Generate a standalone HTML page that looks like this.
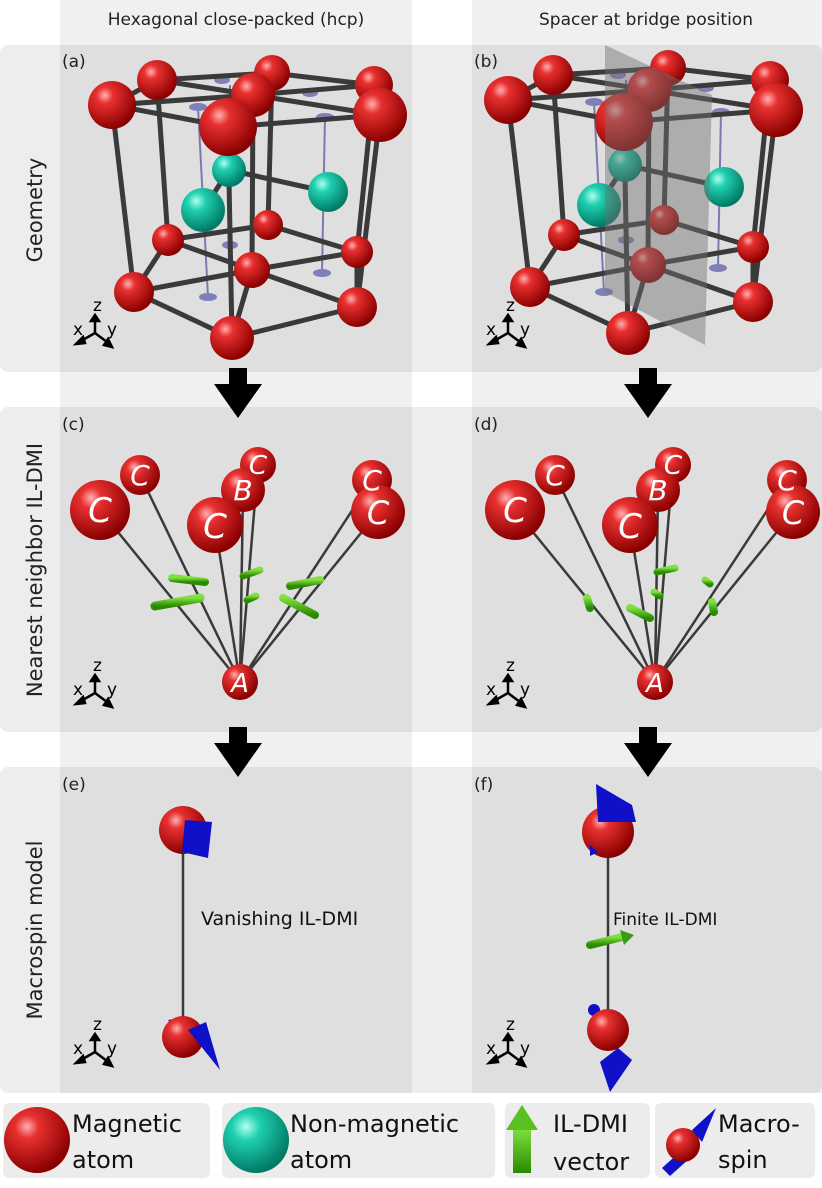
<!DOCTYPE html>
<html><head><meta charset="utf-8"><style>
body{margin:0;background:#fff}
svg{display:block}
text{font-family:"DejaVu Sans","Liberation Sans",sans-serif}
</style></head><body>
<svg width="822" height="1188" viewBox="0 0 822 1188" xmlns="http://www.w3.org/2000/svg">
<defs>
<radialGradient id="r" cx="35%" cy="30%" r="70%"><stop offset="0" stop-color="#ffb0b0"/><stop offset="0.25" stop-color="#e83030"/><stop offset="1" stop-color="#8a0000"/></radialGradient>
<radialGradient id="t" cx="35%" cy="30%" r="70%"><stop offset="0" stop-color="#b0fff0"/><stop offset="0.3" stop-color="#20d0b0"/><stop offset="1" stop-color="#007a66"/></radialGradient>
<linearGradient id="g" x1="0" y1="0" x2="0" y2="1"><stop offset="0" stop-color="#80e040"/><stop offset="1" stop-color="#2a8a00"/></linearGradient>
<g id="ax">
<g stroke="#000" stroke-width="2.5" fill="none">
<line x1="0" y1="0" x2="0" y2="-14"/><path d="M-4,-12 L0,-18 L4,-12Z" fill="#000"/>
<line x1="0" y1="0" x2="-14" y2="8"/><path d="M-12,4 L-19,11 L-10,10Z" fill="#000"/>
<line x1="0" y1="0" x2="12" y2="9"/><path d="M9,12 L17,14 L13,6Z" fill="#000"/>
</g>
<text x="-2" y="-22" font-size="17" fill="#000">z</text>
<text x="-22" y="2" font-size="17" fill="#000">x</text>
<text x="12" y="2" font-size="17" fill="#000">y</text>
</g>
<g id="arr"><rect x="-9" y="0" width="18" height="16" fill="#000"/><path d="M-24,16 L24,16 L0,50Z" fill="#000"/></g>
</defs>
<rect x="60" y="0" width="352" height="1093" fill="#000" fill-opacity="0.06"/>
<rect x="472" y="0" width="350" height="1093" fill="#000" fill-opacity="0.06"/>
<rect x="0" y="45" width="822" height="327" rx="8" fill="#000" fill-opacity="0.07"/>
<rect x="0" y="407" width="822" height="325" rx="8" fill="#000" fill-opacity="0.07"/>
<rect x="0" y="767" width="822" height="326" rx="8" fill="#000" fill-opacity="0.07"/>
<text x="236" y="25" font-size="17" text-anchor="middle" fill="#222">Hexagonal close-packed (hcp)</text>
<text x="646" y="25" font-size="17" text-anchor="middle" fill="#222">Spacer at bridge position</text>
<g font-size="21" fill="#222" text-anchor="middle">
<text transform="translate(42,210) rotate(-90)">Geometry</text>
<text transform="translate(42,570) rotate(-90)">Nearest neighbor IL-DMI</text>
<text transform="translate(42,930) rotate(-90)">Macrospin model</text>
</g>
<g font-size="17" fill="#222">
<text x="62" y="67">(a)</text><text x="474" y="67">(b)</text>
<text x="62" y="430">(c)</text><text x="474" y="430">(d)</text>
<text x="62" y="790">(e)</text><text x="474" y="790">(f)</text>
</g>
<g id="lat">
<g stroke="#7a7ab0" stroke-width="2"><line x1="198" y1="107" x2="208" y2="297"/><line x1="325" y1="117" x2="322" y2="273"/><line x1="230" y1="85" x2="230" y2="245"/></g>
<g fill="#8080b8"><ellipse cx="198" cy="107" rx="9" ry="4"/><ellipse cx="325" cy="117" rx="9" ry="4"/><ellipse cx="222" cy="80" rx="8" ry="4"/><ellipse cx="310" cy="93" rx="8" ry="4"/><ellipse cx="208" cy="297" rx="9" ry="4"/><ellipse cx="322" cy="273" rx="9" ry="4"/><ellipse cx="230" cy="245" rx="8" ry="4"/></g>
<g stroke="#3a3a3a" stroke-width="5" fill="none" stroke-linejoin="round">
<path d="M157,80 L272,73 L374,85 L380,115 L228,127 L112,105 Z"/>
<path d="M112,105 L253,95 L380,115 M157,80 L253,95 L374,85 M253,95 L228,127 M272,73 L253,95"/>
<path d="M168,240 L268,225 L357,252 L357,307 L232,338 L134,292 Z"/>
<path d="M134,292 L252,270 L357,252 M168,240 L252,270 L357,307 M252,270 L232,338"/>
<path d="M112,105 L134,292 M228,127 L232,338 M380,115 L357,307 M157,80 L168,240 M374,85 L357,252 M272,73 L268,225 M253,95 L252,270"/>
<path d="M229,170 L328,192 M203,210 L229,170"/>
</g>
<g fill="url(#r)">
<circle cx="157" cy="80" r="20"/><circle cx="272" cy="73" r="18"/><circle cx="374" cy="85" r="19"/>
<circle cx="168" cy="240" r="16"/><circle cx="268" cy="225" r="15"/><circle cx="357" cy="252" r="16"/><circle cx="252" cy="270" r="18"/><circle cx="134" cy="292" r="20"/><circle cx="357" cy="307" r="20"/><circle cx="232" cy="338" r="22"/>
</g>
<g fill="url(#t)"><circle cx="229" cy="170" r="17"/><circle cx="328" cy="192" r="20"/><circle cx="203" cy="210" r="22"/></g>
<g fill="url(#r)"><circle cx="112" cy="105" r="24"/><circle cx="253" cy="95" r="22"/><circle cx="380" cy="115" r="27"/><circle cx="228" cy="127" r="29"/></g>
</g>
<g transform="translate(396,-5)"><use href="#lat"/></g>
<path d="M605,45 L712,95 L705,345 L605,292 Z" fill="#707070" fill-opacity="0.45"/>
<use href="#ax" x="95" y="333"/><use href="#ax" x="508" y="333"/>
<use href="#ax" x="95" y="693"/><use href="#ax" x="508" y="693"/>
<use href="#ax" x="95" y="1052"/><use href="#ax" x="508" y="1052"/>
<use href="#arr" x="238" y="368"/><use href="#arr" x="648" y="368"/>
<use href="#arr" x="238" y="727"/><use href="#arr" x="648" y="727"/>
<g id="nn">
<g stroke="#3a3a3a" stroke-width="2.5">
<line x1="240" y1="682" x2="100" y2="510"/><line x1="240" y1="682" x2="140" y2="475"/><line x1="240" y1="682" x2="258" y2="465"/><line x1="240" y1="682" x2="243" y2="490"/><line x1="240" y1="682" x2="215" y2="525"/><line x1="240" y1="682" x2="372" y2="480"/><line x1="240" y1="682" x2="378" y2="512"/>
</g>
<g fill="url(#r)"><circle cx="258" cy="465" r="18"/><circle cx="140" cy="475" r="20"/><circle cx="372" cy="480" r="20"/><circle cx="243" cy="490" r="22"/><circle cx="100" cy="510" r="30"/><circle cx="378" cy="512" r="27"/><circle cx="215" cy="525" r="28"/><circle cx="240" cy="682" r="18"/></g>
<g fill="#fff" font-family="Liberation Serif,serif" font-style="italic" text-anchor="middle">
<text x="258" y="474" font-size="26">C</text><text x="140" y="485" font-size="28">C</text><text x="372" y="490" font-size="28">C</text><text x="243" y="500" font-size="28">B</text><text x="100" y="522" font-size="34">C</text><text x="378" y="524" font-size="32">C</text><text x="215" y="538" font-size="34">C</text><text x="240" y="692" font-size="26">A</text>
</g>
</g>
<g transform="translate(415,0)"><use href="#nn"/></g>
<g stroke="url(#g)" stroke-linecap="round" fill="none">
<line x1="172" y1="578" x2="205" y2="582" stroke-width="8"/><line x1="155" y1="606" x2="200" y2="598" stroke-width="9"/><line x1="243" y1="576" x2="260" y2="570" stroke-width="7"/><line x1="247" y1="600" x2="256" y2="596" stroke-width="7"/><line x1="290" y1="586" x2="320" y2="580" stroke-width="8"/><line x1="283" y1="598" x2="315" y2="615" stroke-width="8"/><line x1="233" y1="606" x2="233" y2="630" stroke-width="9"/>
<line x1="596" y1="579" x2="612" y2="579" stroke-width="7"/><line x1="587" y1="598" x2="590" y2="608" stroke-width="8"/><line x1="630" y1="608" x2="650" y2="618" stroke-width="8"/><line x1="657" y1="572" x2="675" y2="568" stroke-width="7"/><line x1="654" y1="592" x2="660" y2="596" stroke-width="7"/><line x1="705" y1="580" x2="710" y2="584" stroke-width="7"/><line x1="712" y1="602" x2="714" y2="612" stroke-width="8"/>
</g>
<line x1="183" y1="830" x2="183" y2="1035" stroke="#3a3a3a" stroke-width="2.5"/>
<circle cx="183" cy="830" r="24" fill="url(#r)"/>
<path d="M185,820 L212,822 L208,858 L182,852 Z" fill="#1010c8"/>
<path d="M168,1020 L180,1018 L176,1030Z" fill="#1010c8"/>
<circle cx="183" cy="1037" r="21" fill="url(#r)"/>
<path d="M188,1030 L206,1022 L220,1070 Z" fill="#1010c8"/>
<text x="201" y="925" font-size="19" fill="#111">Vanishing IL-DMI</text>
<line x1="608" y1="820" x2="608" y2="1035" stroke="#3a3a3a" stroke-width="2.5"/>
<circle cx="608" cy="832" r="26" fill="url(#r)"/>
<path d="M596,784 L632,805 L636,822 L598,822 Z" fill="#1010c8"/>
<path d="M590,845 L598,852 L590,856Z" fill="#1010c8"/>
<line x1="590" y1="945" x2="622" y2="937" stroke="url(#g)" stroke-width="8" stroke-linecap="round"/>
<path d="M620,930 L634,935 L624,945Z" fill="#3a9a10"/>
<circle cx="594" cy="1010" r="6" fill="#1010c8"/>
<circle cx="608" cy="1030" r="21" fill="url(#r)"/>
<path d="M618,1048 L632,1060 L610,1092 L600,1062 Z" fill="#1010c8"/>
<text x="613" y="925" font-size="17" fill="#111">Finite IL-DMI</text>
<g fill="#ececec"><rect x="3" y="1103" width="207" height="75" rx="6"/><rect x="222" y="1103" width="273" height="75" rx="6"/><rect x="505" y="1103" width="145" height="75" rx="6"/><rect x="655" y="1103" width="160" height="75" rx="6"/></g>
<circle cx="37" cy="1140" r="33" fill="url(#r)"/>
<circle cx="256" cy="1140" r="33" fill="url(#t)"/>
<rect x="513" y="1128" width="18" height="45" fill="url(#g)"/><path d="M506,1130 L522,1105 L538,1130Z" fill="#5ac020"/>
<path d="M662,1168 L670,1176 L690,1158 L682,1150Z" fill="#1010c8"/>
<circle cx="683" cy="1145" r="17" fill="url(#r)"/>
<path d="M692,1130 L716,1108 L702,1142 Z" fill="#1010c8"/>
<g font-size="24" fill="#111">
<text x="72" y="1132">Magnetic</text><text x="72" y="1168">atom</text>
<text x="290" y="1132">Non-magnetic</text><text x="290" y="1168">atom</text>
<text x="553" y="1132">IL-DMI</text><text x="553" y="1170">vector</text>
<text x="718" y="1132">Macro-</text><text x="718" y="1168">spin</text>
</g>
</svg>
</body></html>
